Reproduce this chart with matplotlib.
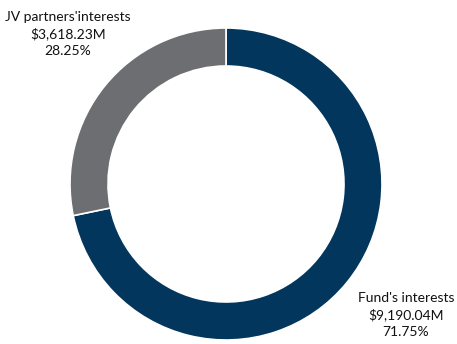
import matplotlib
matplotlib.use("Agg")
import matplotlib.pyplot as plt

# Ownership split (USD millions)
labels = ["Fund's interests", "JV partners'interests"]
values = [9190.04, 3618.23]
colors = ["#03365C", "#6D6E71"]

total = sum(values)
shares = [v / total * 100 for v in values]

fig = plt.figure(figsize=(4.57, 3.44), dpi=100)
ax = fig.add_axes([0, 0, 1, 1])
ax.set_xlim(0, 457)
ax.set_ylim(0, 344)
ax.set_aspect("equal")
ax.axis("off")

ax.pie(values, colors=colors, startangle=90, counterclock=False,
       center=(226, 160), radius=156,
       wedgeprops=dict(width=38, edgecolor="white", linewidth=1.2))
ax.set_xlim(0, 457)
ax.set_ylim(0, 344)

label_pos = [(406, 29), (68, 310)]
for lbl, val, pct, (x, y) in zip(labels, values, shares, label_pos):
    ax.text(x, y, f"{lbl}\n${val:,.2f}M\n{pct:.2f}%", ha="center", va="center",
            fontsize=10, family="Lato", color="#111111", linespacing=1.4)

fig.savefig("out.png", dpi=100)
